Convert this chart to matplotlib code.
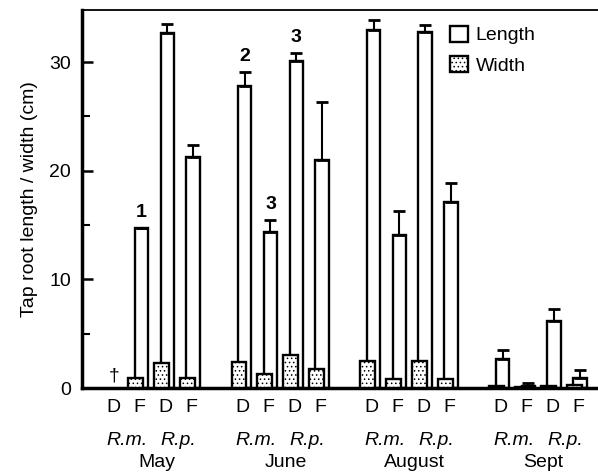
import matplotlib.pyplot as plt
import numpy as np

plt.rcParams['font.family'] = ['Liberation Sans', 'DejaVu Sans']
plt.rcParams['hatch.linewidth'] = 0.6

months = ["May", "June", "August", "Sept"]
species = ["R.m.", "R.p."]
habitats = ["D", "F", "D", "F"]

# per month: D R.m., F R.m., D R.p., F R.p.
length_mean = [[np.nan, 14.7, 32.7, 21.3],
               [27.8, 14.4, 30.1, 21.0],
               [33.0, 14.1, 32.8, 17.1],
               [2.7, 0.2, 6.2, 0.9]]
length_err = [[0, 0, 0.8, 1.1],
              [1.3, 1.1, 0.7, 5.3],
              [0.9, 2.2, 0.6, 1.8],
              [0.8, 0.3, 1.1, 0.8]]
width_mean = [[np.nan, 0.9, 2.3, 0.9],
              [2.4, 1.3, 3.0, 1.75],
              [2.5, 0.8, 2.5, 0.8],
              [0.2, 0.1, 0.15, 0.3]]
marks = {(0, 1): "1", (1, 0): "2", (1, 1): "3", (1, 2): "3"}

fs = 14

fig = plt.figure(figsize=(5.98, 4.75), dpi=100)
ax = fig.add_axes([0.137, 0.183, 0.863, 0.796])

for g in range(len(months)):
    x = g * 5 + np.arange(4)
    lm = np.array(length_mean[g])
    le = np.array(length_err[g])
    ax.bar(x + 0.22, lm, width=0.52, color="white", edgecolor="black",
           linewidth=1.7, zorder=2, label="Length" if g == 0 else None)
    ax.errorbar(x + 0.22, lm, yerr=[np.zeros(4), le], fmt="none",
                ecolor="black", elinewidth=1.5, capsize=4.5, capthick=2, zorder=3)
    ax.bar(x, width_mean[g], width=0.58, color="white", edgecolor="black",
           linewidth=1.7, hatch="....", zorder=4, label="Width" if g == 0 else None)
    for (mg, i), txt in marks.items():
        if mg == g:
            ax.annotate(txt, (x[i] + 0.22, lm[i] + le[i]), xytext=(0, 5),
                        textcoords="offset points", ha="center", va="bottom",
                        fontsize=fs, fontweight="bold")
    trans = ax.get_xaxis_transform()
    for i, h in enumerate(habitats):
        ax.text(x[i] + 0.15, -0.052, h, transform=trans, ha="center", va="center",
                fontsize=fs)
    for k, sp in enumerate(species):
        ax.text(x[2 * k] + 0.65, -0.138, sp, transform=trans, ha="center",
                va="center", fontsize=fs, style="italic")
    ax.text(x[0] + 1.8, -0.198, months[g], transform=trans, ha="center",
            va="center", fontsize=fs)

ax.text(0.15, 0.3, "\u2020", ha="center", va="bottom", fontsize=fs)

ax.set_xlim(-1.09, 18.92)
ax.set_ylim(0, 34.8)
ax.set_yticks([0, 10, 20, 30])
ax.set_yticks([5, 15, 25], minor=True)
ax.tick_params(axis="y", which="major", direction="in", length=8, width=1.8,
               labelsize=fs, pad=8)
ax.tick_params(axis="y", which="minor", direction="in", length=6, width=1.5)
ax.set_xticks([])
ax.spines["right"].set_visible(False)
ax.spines["left"].set_linewidth(2.5)
ax.spines["bottom"].set_linewidth(2.5)
ax.spines["top"].set_linewidth(1.3)
ax.set_ylabel("Tap root length / width (cm)", fontsize=fs, labelpad=8)

ax.legend(loc="upper left", bbox_to_anchor=(0.68, 1.005), frameon=False,
          fontsize=fs, handlelength=0.9, handleheight=0.9, handletextpad=0.4,
          labelspacing=0.6)

fig.savefig("out.png", dpi=100)
